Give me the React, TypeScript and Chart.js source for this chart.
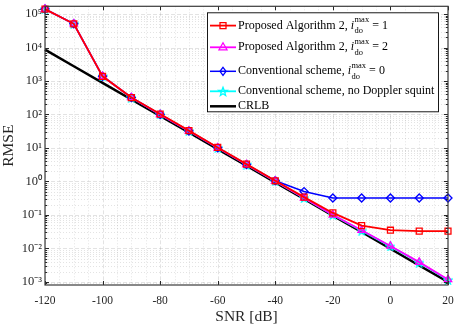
import React, { useEffect, useRef } from 'react';
import { Chart, registerables } from 'chart.js';

Chart.register(...registerables);

const snrDb = [-120, -110, -100, -90, -80, -70, -60, -50, -40, -30, -20, -10, 0, 10, 20];
const proposedDo1 = [1.4e5, 5.1e4, 1.38e3, 3.2e2, 1.03e2, 33, 10.4, 3.3, 1.05, 0.34, 0.115, 0.048, 0.035, 0.033, 0.033];
const proposedDo2 = [1.4e5, 5.1e4, 1.38e3, 3.2e2, 1.0e2, 32, 10.1, 3.2, 1.02, 0.32, 0.1, 0.035, 0.0118, 0.0039, 0.00118];
const conventionalDo0 = [1.4e5, 5.1e4, 1.38e3, 3.2e2, 1.0e2, 32, 10.1, 3.2, 1.05, 0.5, 0.32, 0.32, 0.32, 0.32, 0.32];
const conventionalNoSquint = [1.4e5, 5.1e4, 1.38e3, 3.2e2, 1.0e2, 32, 10.1, 3.2, 1.02, 0.32, 0.1, 0.034, 0.0115, 0.0038, 0.00115];
const crlb = [8.6e3, 2.75e3, 8.8e2, 2.8e2, 90, 29, 9.2, 2.95, 0.94, 0.3, 0.096, 0.031, 0.0098, 0.0031, 0.001];

const xTickValues = [-120, -100, -80, -60, -40, -20, 0, 20];
const yDecadeExponents = [-3, -2, -1, 0, 1, 2, 3, 4, 5];

const SERIF = '"Liberation Serif", "Times New Roman", serif';

const SUP: Record<string, string> = {
  '-': '\u207B', '0': '\u2070', '1': '\u00B9', '2': '\u00B2', '3': '\u00B3',
  '4': '\u2074', '5': '\u2075', '6': '\u2076', '7': '\u2077', '8': '\u2078', '9': '\u2079',
};
const toSup = (s: string) => s.split('').map((c) => SUP[c] ?? c).join('');

function makePentagram(color: string, size: number): HTMLCanvasElement {
  const c = document.createElement('canvas');
  c.width = size;
  c.height = size;
  const ctx = c.getContext('2d')!;
  const cx = size / 2, cy = size / 2 + 0.5;
  const R = size / 2 - 0.8, r = R * 0.42;
  ctx.beginPath();
  for (let i = 0; i < 10; i++) {
    const rad = (i % 2 === 0 ? R : r);
    const a = -Math.PI / 2 + (i * Math.PI) / 5;
    const px = cx + rad * Math.cos(a), py = cy + rad * Math.sin(a);
    if (i === 0) ctx.moveTo(px, py); else ctx.lineTo(px, py);
  }
  ctx.closePath();
  ctx.strokeStyle = color;
  ctx.lineWidth = 1.3;
  ctx.stroke();
  return c;
}

type LegendItem = {
  text: string; sup?: string; sub?: string; tail?: string;
  color: string; width: number; marker: string;
};

const legendItems: LegendItem[] = [
  { text: 'Proposed Algorithm 2, ', sup: 'max', sub: 'do', tail: ' = 1', color: '#ff0000', width: 1.8, marker: 'rect' },
  { text: 'Proposed Algorithm 2, ', sup: 'max', sub: 'do', tail: ' = 2', color: '#ff00ff', width: 1.8, marker: 'triangle' },
  { text: 'Conventional scheme, ', sup: 'max', sub: 'do', tail: ' = 0', color: '#0000ff', width: 1.5, marker: 'rectRot' },
  { text: 'Conventional scheme, no Doppler squint', color: '#00ffff', width: 1.8, marker: 'star' },
  { text: 'CRLB', color: '#000000', width: 2.5, marker: 'none' },
];

function drawMarker(ctx: CanvasRenderingContext2D, kind: string, x: number, y: number, color: string) {
  ctx.save();
  ctx.strokeStyle = color;
  ctx.lineWidth = 1.3;
  ctx.beginPath();
  if (kind === 'rect') {
    ctx.rect(x - 3, y - 3, 6, 6);
  } else if (kind === 'triangle') {
    ctx.moveTo(x, y - 4.5);
    ctx.lineTo(x + 4, y + 2.5);
    ctx.lineTo(x - 4, y + 2.5);
    ctx.closePath();
  } else if (kind === 'rectRot') {
    ctx.moveTo(x, y - 4);
    ctx.lineTo(x + 3, y);
    ctx.lineTo(x, y + 4);
    ctx.lineTo(x - 3, y);
    ctx.closePath();
  } else if (kind === 'star') {
    const R = 4.5, r = R * 0.42;
    for (let i = 0; i < 10; i++) {
      const rad = i % 2 === 0 ? R : r;
      const a = -Math.PI / 2 + (i * Math.PI) / 5;
      const px = x + rad * Math.cos(a), py = y + 0.5 + rad * Math.sin(a);
      if (i === 0) ctx.moveTo(px, py); else ctx.lineTo(px, py);
    }
    ctx.closePath();
  }
  ctx.stroke();
  ctx.restore();
}

const matlabPlugin = {
  id: 'matlabAxes',
  beforeDatasetsDraw(chart: any) {
    const { ctx, chartArea } = chart;
    const { left, right, top, bottom } = chartArea;
    const xs = chart.scales.x;
    const ys = chart.scales.y;
    ctx.save();
    ctx.beginPath();
    ctx.rect(left, top, right - left, bottom - top);
    ctx.clip();
    // minor grid
    ctx.strokeStyle = 'rgba(0,0,0,0.14)';
    ctx.lineWidth = 0.8;
    ctx.setLineDash([1, 2]);
    for (let v = -120; v <= 20; v += 5) {
      if (v % 20 === 0) continue;
      const px = Math.round(xs.getPixelForValue(v)) + 0.5;
      ctx.beginPath(); ctx.moveTo(px, top); ctx.lineTo(px, bottom); ctx.stroke();
    }
    for (let e = -4; e <= 5; e++) {
      for (let m = 2; m <= 9; m++) {
        const val = m * Math.pow(10, e);
        const py = Math.round(ys.getPixelForValue(val)) + 0.5;
        if (py < top || py > bottom) continue;
        ctx.beginPath(); ctx.moveTo(left, py); ctx.lineTo(right, py); ctx.stroke();
      }
    }
    // major grid
    ctx.setLineDash([4, 2]);
    ctx.strokeStyle = 'rgba(0,0,0,0.11)';
    ctx.lineWidth = 1;
    xTickValues.forEach((v) => {
      const px = Math.round(xs.getPixelForValue(v)) + 0.5;
      ctx.beginPath(); ctx.moveTo(px, top); ctx.lineTo(px, bottom); ctx.stroke();
    });
    yDecadeExponents.forEach((e) => {
      const py = Math.round(ys.getPixelForValue(Math.pow(10, e))) + 0.5;
      ctx.beginPath(); ctx.moveTo(left, py); ctx.lineTo(right, py); ctx.stroke();
    });
    ctx.restore();
  },
  afterDatasetsDraw(chart: any) {
    const { ctx, chartArea } = chart;
    const { left, right, top, bottom } = chartArea;
    const xs = chart.scales.x;
    const ys = chart.scales.y;
    ctx.save();
    ctx.strokeStyle = '#262626';
    ctx.lineWidth = 1;
    // ticks
    xTickValues.forEach((v) => {
      const px = Math.round(xs.getPixelForValue(v)) + 0.5;
      ctx.beginPath();
      ctx.moveTo(px, bottom); ctx.lineTo(px, bottom - 4);
      ctx.moveTo(px, top); ctx.lineTo(px, top + 4);
      ctx.stroke();
    });
    for (let e = -4; e <= 5; e++) {
      for (let m = 1; m <= 9; m++) {
        const val = m * Math.pow(10, e);
        const py = Math.round(ys.getPixelForValue(val)) + 0.5;
        if (py < top || py > bottom) continue;
        const len = m === 1 ? 4 : 2.2;
        ctx.beginPath();
        ctx.moveTo(left, py); ctx.lineTo(left + len, py);
        ctx.moveTo(right, py); ctx.lineTo(right - len, py);
        ctx.stroke();
      }
    }
    // box
    ctx.lineWidth = 1.2;
    ctx.strokeStyle = '#3a3a3a';
    ctx.strokeRect(left, top, right - left, bottom - top);

    // legend
    const bx = right - 241, by = top + 6, bw = 231, bh = 99;
    ctx.fillStyle = '#ffffff';
    ctx.fillRect(bx, by, bw, bh);
    ctx.lineWidth = 0.9;
    ctx.strokeStyle = '#000000';
    ctx.strokeRect(bx + 0.5, by + 0.5, bw, bh);
    const rowY = [13.3, 35, 59, 79, 94];
    legendItems.forEach((it, i) => {
      const y = by + rowY[i];
      ctx.strokeStyle = it.color;
      ctx.lineWidth = it.width;
      ctx.beginPath();
      ctx.moveTo(bx + 3, y); ctx.lineTo(bx + 29, y);
      ctx.stroke();
      if (it.marker !== 'none') drawMarker(ctx, it.marker, bx + 16, y, it.color);
      ctx.fillStyle = '#000000';
      ctx.textBaseline = 'middle';
      ctx.textAlign = 'left';
      ctx.font = `12px ${SERIF}`;
      let tx = bx + 31;
      ctx.fillText(it.text, tx, y);
      tx += ctx.measureText(it.text).width;
      if (it.sup) {
        ctx.font = `italic 12px ${SERIF}`;
        ctx.fillText('i', tx, y);
        tx += ctx.measureText('i').width + 0.5;
        ctx.font = `8.5px ${SERIF}`;
        ctx.fillText(it.sup, tx, y - 6);
        ctx.fillText(it.sub!, tx, y + 5.5);
        const w = Math.max(ctx.measureText(it.sup).width, ctx.measureText(it.sub!).width);
        tx += w;
        ctx.font = `12px ${SERIF}`;
        ctx.fillText(it.tail!, tx, y);
      }
    });
    ctx.restore();
  },
};

export default function App() {
  const ref = useRef<HTMLCanvasElement | null>(null);
  useEffect(() => {
    if (!ref.current) return;
    const star = makePentagram('#00ffff', 10);
    const ds = (label: string, data: number[], color: string, width: number, style: any, radius: number, order: number) => ({
      label,
      data: snrDb.map((x, i) => ({ x, y: data[i] })),
      borderColor: color,
      backgroundColor: 'rgba(0,0,0,0)',
      borderWidth: width,
      pointStyle: style,
      pointRadius: radius,
      pointBorderWidth: 1.3,
      pointBorderColor: color,
      pointBackgroundColor: 'rgba(0,0,0,0)',
      tension: 0,
      order,
      clip: 6,
    });
    const chart = new Chart(ref.current, {
      type: 'line',
      data: {
        datasets: [
          ds('CRLB', crlb, '#000000', 2.5, false, 0, 5),
          ds('Conventional scheme, no Doppler squint', conventionalNoSquint, '#00ffff', 1.8, star, 5, 4),
          ds('Conventional scheme, i_do^max = 0', conventionalDo0, '#0000ff', 1.5, 'rectRot', 4, 3),
          ds('Proposed Algorithm 2, i_do^max = 2', proposedDo2, '#ff00ff', 1.8, 'triangle', 4.3, 2),
          ds('Proposed Algorithm 2, i_do^max = 1', proposedDo1, '#ff0000', 1.8, 'rect', 4.2, 1),
        ] as any,
      },
      options: {
        animation: false,
        responsive: false,
        maintainAspectRatio: false,
        layout: { padding: { left: 0, right: 9, top: 4, bottom: 0 } },
        plugins: { legend: { display: false }, tooltip: { enabled: false } },
        scales: {
          x: {
            type: 'linear',
            min: -120,
            max: 20,
            grid: { display: false, drawTicks: false },
            border: { display: false },
            afterBuildTicks: (scale: any) => {
              scale.ticks = xTickValues.map((v) => ({ value: v }));
            },
            afterFit: (scale: any) => {
              scale.height = 41;
              scale.paddingLeft = 0;
              scale.paddingRight = 0;
            },
            ticks: {
              color: '#262626',
              font: { family: SERIF, size: 11.5 },
              padding: 9,
              maxRotation: 0,
              autoSkip: false,
              callback: (v: any) => String(v),
            },
            title: {
              display: true,
              text: 'SNR [dB]',
              color: '#262626',
              font: { family: SERIF, size: 15.5 },
              padding: { top: 0, bottom: 0 },
            },
          },
          y: {
            type: 'logarithmic',
            min: 8.1e-4,
            max: 1.7e5,
            grid: { display: false, drawTicks: false },
            border: { display: false },
            afterBuildTicks: (scale: any) => {
              scale.ticks = yDecadeExponents.map((e) => ({ value: Math.pow(10, e) }));
            },
            afterFit: (scale: any) => {
              scale.width = 45;
              scale.paddingTop = 0;
              scale.paddingBottom = 0;
            },
            ticks: {
              color: '#262626',
              font: { family: SERIF, size: 12.5 },
              padding: 3,
              autoSkip: false,
              callback: (v: any) => '10' + toSup(String(Math.round(Math.log10(Number(v))))),
            },
            title: {
              display: true,
              text: 'RMSE',
              color: '#262626',
              font: { family: SERIF, size: 15.5 },
              padding: { top: 0, bottom: 1 },
            },
          },
        },
      },
      plugins: [matlabPlugin as any],
    });
    return () => chart.destroy();
  }, []);
  return (
    <div style={{ position: 'absolute', left: 0, top: 0, width: 457, height: 326, background: '#fff' }}>
      <canvas ref={ref} width={457} height={326} />
    </div>
  );
}
